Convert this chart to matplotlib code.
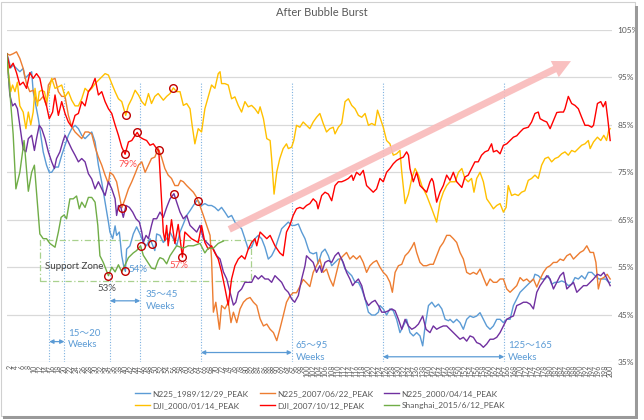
import numpy as np
import matplotlib.pyplot as plt
from matplotlib.patches import Rectangle, FancyArrowPatch

plt.rcParams['font.family'] = ['Lato', 'Noto Sans CJK JP']

# (week, % of peak)
n225_1989 = [(1.0, 100), (1.5, 99.0), (2.3, 97.0), (3.1, 97.6), (4.2, 96.9), (5.3, 96.2), (6.4, 96.9), (7.0, 94.8),
             (8.1, 95.5), (9.2, 96.2), (9.7, 92.0), (10.6, 89.0), (11.4, 86.3), (12.2, 82.8), (13.0, 79.3), (14.1, 76.5),
             (15.0, 75.0), (15.8, 75.0), (16.9, 76.1), (18.0, 76.1), (19.1, 78.6), (20.2, 80.7), (21.3, 82.8), (22.4, 84.2),
             (23.5, 84.9), (24.6, 84.2), (25.7, 82.8), (26.8, 82.1), (27.9, 82.8), (29.0, 83.5), (30.1, 81.4), (31.2, 76.5),
             (32.3, 72.9), (33.4, 68.7), (34.5, 64.5), (35.0, 62.4), (35.9, 61.0), (36.7, 63.7), (37.2, 61.7), (38.1, 62.4),
             (38.9, 57.4), (39.6, 55.0), (40.1, 54.1), (40.5, 58.8), (41.6, 59.5), (42.7, 62.0), (43.8, 63.5), (44.9, 62.0),
             (46.0, 60.2), (47.1, 59.5), (48.2, 61.0), (48.9, 59.9), (49.8, 58.5), (50.4, 62.0), (51.5, 61.7), (52.6, 60.2),
             (53.7, 61.0), (54.8, 62.4), (55.9, 61.0), (57.0, 59.5), (58.1, 62.4), (59.2, 64.1), (60.3, 65.9), (61.4, 66.9),
             (62.5, 68.0), (63.6, 69.0), (64.1, 69.0), (65.2, 68.0), (66.3, 68.4), (67.4, 68.0), (68.5, 68.0), (69.6, 67.6),
             (70.7, 66.9), (71.8, 67.6), (72.9, 66.6), (74.0, 65.5), (75.1, 65.9), (76.2, 64.5), (77.3, 63.8), (78.4, 63.1),
             (79.5, 61.0), (80.6, 58.8), (81.7, 59.2), (82.8, 61.0), (83.9, 61.7), (85.0, 61.0), (86.1, 59.2), (87.2, 56.7),
             (88.3, 57.4), (89.4, 58.8), (90.5, 61.0), (91.6, 63.1), (92.7, 63.8), (93.8, 64.5), (94.9, 63.8), (95.9, 63.8),
             (97.1, 64.1), (98.2, 62.4), (99.3, 61.0), (100.4, 58.8), (100.9, 58.1), (102.0, 57.8), (103.1, 58.1),
             (103.6, 55.7), (104.8, 58.1), (105.9, 58.8), (107.0, 57.4), (108.1, 55.3), (109.2, 56.0), (110.3, 56.7),
             (111.4, 56.7), (112.5, 54.6), (113.6, 53.9), (114.7, 53.2), (115.8, 51.8), (116.9, 51.8), (118.0, 50.4),
             (119.1, 48.3), (120.2, 45.5), (121.3, 44.9), (122.4, 44.9), (123.5, 45.5), (124.0, 46.9), (125.1, 46.2),
             (126.2, 44.9), (127.3, 46.2), (128.4, 45.8), (129.5, 44.0), (130.6, 41.2), (131.7, 42.6), (132.8, 44.0),
             (133.9, 41.2), (135.0, 40.5), (136.1, 41.2), (137.2, 40.5), (138.1, 38.4), (138.9, 42.6), (140.0, 46.9),
             (141.1, 47.6), (142.2, 46.6), (143.3, 47.2), (144.4, 46.2), (145.5, 44.0), (146.6, 43.7), (147.1, 44.0),
             (148.2, 43.3), (149.3, 44.0), (150.4, 43.3), (151.5, 41.9), (152.6, 44.0), (153.7, 44.7), (154.8, 44.4),
             (155.9, 44.7), (157.0, 45.4), (158.1, 44.0), (159.2, 42.6), (160.3, 41.9), (161.4, 42.6), (162.5, 44.0),
             (163.6, 44.0), (164.7, 43.3), (165.8, 44.0), (166.9, 44.0), (168.0, 46.9), (169.1, 48.3), (170.2, 49.7),
             (171.3, 50.4), (172.4, 51.1), (173.5, 51.8), (174.6, 52.5), (175.1, 53.5), (176.2, 53.2), (177.3, 52.5),
             (178.4, 52.5), (179.5, 53.2), (180.6, 51.4), (181.7, 51.8), (182.8, 51.8), (183.9, 52.1), (185.0, 51.8),
             (186.1, 51.1), (187.2, 51.4), (188.3, 52.8), (189.4, 52.5), (190.5, 53.2), (191.6, 52.5), (192.7, 53.9),
             (193.8, 53.9), (194.9, 53.2), (196.2, 52.5), (197.3, 52.5), (198.4, 52.5), (199.4, 51.8), (199.9, 51.8)]

n225_2007 = [(1.0, 100), (2.0, 99.7), (3.1, 100.0), (4.2, 100.4), (5.3, 99.0), (6.4, 96.9), (7.5, 93.7), (8.6, 92.0),
             (9.7, 92.3), (10.8, 89.9), (11.9, 90.2), (13.0, 91.0), (14.1, 89.0), (14.7, 93.4), (15.8, 94.5), (16.9, 94.8),
             (18.0, 92.0), (19.1, 91.0), (20.2, 91.0), (21.3, 87.0), (22.4, 84.6), (23.5, 83.5), (24.6, 82.8), (25.7, 82.1),
             (26.8, 83.5), (27.9, 83.5), (29.0, 83.1), (30.1, 80.3), (31.2, 78.2), (32.3, 76.5), (33.4, 74.4), (34.5, 72.6),
             (35.0, 75.0), (36.1, 74.4), (37.2, 73.0), (38.3, 69.4), (38.9, 67.5), (40.0, 69.4), (41.1, 71.5), (42.2, 73.0),
             (43.3, 74.7), (44.4, 76.5), (45.5, 77.2), (46.6, 75.0), (47.7, 76.5), (48.7, 77.9), (49.8, 78.2), (50.9, 80.0),
             (52.0, 78.2), (53.1, 75.8), (54.2, 74.4), (55.3, 73.7), (56.4, 72.2), (57.5, 72.2), (58.3, 73.3), (59.2, 73.0),
             (60.3, 72.2), (61.4, 71.5), (62.5, 70.8), (63.6, 69.7), (64.7, 67.9), (65.8, 65.9), (66.9, 63.8), (68.0, 61.7),
             (68.5, 56.7), (69.1, 45.5), (69.9, 47.6), (71.1, 41.9), (71.8, 46.9), (72.9, 46.2), (74.0, 47.6), (74.9, 43.3),
             (75.7, 45.5), (76.8, 43.3), (77.9, 46.2), (79.0, 47.6), (80.1, 48.3), (81.2, 48.6), (82.3, 47.6), (83.4, 46.9),
             (84.5, 44.1), (85.6, 42.6), (86.7, 43.0), (87.8, 41.9), (88.9, 41.2), (90.0, 39.5), (91.0, 41.9), (92.1, 44.7),
             (93.2, 47.6), (94.3, 48.9), (95.4, 49.6), (96.5, 49.6), (97.6, 50.9), (98.7, 52.4), (99.8, 51.7), (100.9, 50.9),
             (102.0, 53.9), (103.1, 55.3), (104.2, 56.7), (105.3, 53.9), (106.4, 54.6), (107.5, 52.5), (108.6, 51.0),
             (109.7, 53.9), (110.8, 56.7), (111.9, 57.4), (113.0, 58.1), (114.1, 56.7), (115.2, 57.4), (116.3, 56.7),
             (117.4, 57.4), (118.5, 56.0), (119.6, 53.9), (120.7, 55.3), (121.8, 56.0), (122.9, 56.4), (124.0, 55.0),
             (125.1, 53.9), (126.2, 53.2), (127.3, 51.8), (128.1, 49.7), (129.0, 53.9), (130.1, 55.3), (131.2, 55.6),
             (132.3, 57.4), (133.4, 58.1), (134.5, 59.2), (135.3, 60.2), (136.1, 58.1), (137.2, 56.0), (138.3, 55.3),
             (139.4, 55.3), (140.5, 55.6), (141.6, 55.6), (142.7, 57.4), (143.8, 59.2), (144.9, 60.2), (146.0, 61.7),
             (147.1, 61.7), (148.2, 61.0), (149.3, 60.2), (150.4, 58.1), (151.5, 56.7), (152.6, 53.9), (153.7, 53.5),
             (154.8, 53.9), (155.9, 53.5), (157.0, 54.6), (158.1, 52.8), (159.2, 51.1), (160.3, 52.5), (161.4, 51.8),
             (162.5, 51.8), (163.6, 52.5), (164.7, 52.5), (165.8, 50.4), (166.9, 49.7), (168.0, 50.4), (169.1, 51.1),
             (170.2, 52.8), (171.3, 52.1), (172.4, 52.5), (173.5, 51.8), (174.6, 52.5), (175.7, 50.8), (176.8, 52.5),
             (177.9, 53.9), (179.0, 54.9), (180.1, 55.3), (181.2, 56.0), (182.3, 56.0), (183.4, 56.7), (184.5, 56.4),
             (185.6, 57.4), (186.7, 57.8), (187.8, 56.7), (188.9, 57.4), (190.0, 58.1), (191.1, 58.5), (192.2, 59.5),
             (193.3, 58.1), (194.4, 58.1), (195.2, 56.0), (196.0, 50.4), (196.8, 52.5), (197.8, 52.8), (198.9, 53.5),
             (199.9, 52.5)]

n225_2000 = [(1.0, 100), (1.5, 95.5), (2.0, 91.3), (2.9, 89.0), (3.7, 89.5), (4.5, 88.4), (5.3, 84.9), (6.4, 79.9),
             (7.3, 79.3), (8.1, 82.1), (9.2, 82.8), (10.1, 79.6), (10.8, 82.1), (11.7, 84.9), (12.5, 84.2), (13.6, 82.1),
             (14.7, 79.3), (15.8, 77.2), (16.7, 75.8), (17.4, 77.9), (18.5, 79.3), (19.6, 81.7), (20.2, 82.8), (21.3, 81.4),
             (22.4, 79.9), (23.5, 78.6), (24.6, 77.2), (25.7, 77.9), (26.8, 77.2), (27.9, 74.7), (29.0, 73.6), (30.1, 71.5),
             (31.2, 73.0), (32.3, 71.5), (33.4, 70.1), (34.5, 73.0), (35.6, 71.5), (36.7, 69.4), (37.2, 65.9), (37.8, 68.0),
             (38.6, 67.6), (39.4, 65.5), (40.3, 68.0), (41.4, 67.6), (42.5, 66.6), (43.6, 65.2), (44.7, 64.5), (45.5, 62.4),
             (46.0, 60.2), (46.9, 61.7), (47.7, 61.0), (48.7, 63.8), (49.3, 65.2), (50.4, 65.2), (51.5, 66.6), (52.6, 65.5),
             (53.7, 67.6), (54.8, 69.4), (56.1, 70.5), (57.0, 68.7), (58.1, 66.6), (59.2, 65.2), (60.3, 65.9), (61.4, 63.8),
             (62.5, 63.1), (63.6, 62.4), (64.7, 63.8), (65.8, 61.0), (66.9, 60.2), (68.0, 59.5), (69.1, 58.8), (70.2, 57.4),
             (71.3, 56.7), (72.4, 54.0), (73.5, 52.5), (74.6, 49.7), (75.7, 47.0), (76.5, 47.6), (77.3, 49.7), (78.4, 50.4),
             (79.5, 51.8), (80.6, 51.8), (81.7, 51.8), (82.8, 53.2), (83.9, 52.5), (85.0, 53.2), (86.1, 52.5), (87.2, 52.5),
             (88.3, 51.8), (89.4, 53.2), (90.5, 52.5), (91.6, 51.8), (92.7, 50.4), (93.8, 49.7), (94.9, 48.3), (95.9, 47.6),
             (97.1, 49.0), (98.2, 52.5), (99.3, 55.3), (99.8, 57.4), (100.9, 56.7), (102.0, 56.0), (103.1, 53.9),
             (104.2, 55.3), (104.8, 53.9), (105.9, 56.0), (107.0, 56.4), (108.1, 56.0), (109.2, 57.4), (110.3, 58.1),
             (110.8, 57.4), (111.9, 56.0), (113.0, 53.9), (114.1, 52.5), (115.0, 51.1), (115.8, 51.8), (116.9, 52.5),
             (118.0, 51.1), (119.1, 48.3), (120.2, 46.9), (121.3, 47.6), (122.4, 48.0), (123.5, 46.9), (124.6, 45.5),
             (125.7, 45.5), (126.8, 45.8), (127.9, 46.2), (129.0, 45.8), (130.1, 44.0), (131.2, 41.9), (132.3, 44.0),
             (133.4, 42.6), (134.5, 41.9), (135.6, 42.3), (136.7, 43.0), (138.1, 44.7), (139.2, 41.9), (140.5, 41.2),
             (141.6, 42.6), (142.7, 41.9), (143.8, 42.3), (144.9, 42.6), (146.0, 42.6), (147.1, 41.9), (148.2, 41.2),
             (149.3, 40.5), (150.4, 39.8), (151.5, 40.2), (152.6, 39.4), (153.7, 40.5), (154.8, 40.2), (155.9, 39.1),
             (157.0, 38.8), (158.1, 38.1), (159.2, 38.8), (160.3, 39.8), (161.4, 39.8), (162.5, 40.2), (163.6, 41.2),
             (164.7, 42.6), (165.8, 44.0), (166.9, 44.4), (168.0, 44.7), (169.1, 46.9), (170.2, 47.2), (171.3, 47.6),
             (172.4, 47.6), (173.5, 47.2), (174.6, 46.2), (175.7, 49.7), (176.8, 51.1), (177.9, 52.1), (179.0, 53.2),
             (180.1, 52.5), (181.2, 50.4), (182.3, 51.8), (183.4, 53.2), (184.5, 53.9), (185.6, 50.4), (186.7, 51.1),
             (187.8, 51.8), (188.9, 49.7), (190.0, 50.4), (191.1, 51.1), (192.2, 51.1), (193.3, 51.8), (194.4, 52.5),
             (195.7, 53.5), (196.8, 53.2), (197.8, 53.9), (198.9, 52.5), (199.9, 51.1)]

dji_2000 = [(1.0, 100), (1.5, 96.2), (2.3, 92.0), (2.9, 93.4), (3.7, 92.0), (4.5, 94.0), (5.3, 89.0), (6.4, 87.7),
            (7.3, 84.2), (8.1, 87.7), (8.9, 85.0), (9.7, 87.7), (10.3, 92.7), (11.1, 89.0), (11.7, 92.0), (12.5, 92.3),
            (13.4, 92.0), (14.1, 89.9), (14.9, 92.0), (15.8, 94.8), (16.9, 92.7), (18.0, 93.0), (19.1, 93.4), (20.2, 90.9),
            (21.3, 92.0), (22.4, 90.2), (23.5, 89.0), (24.6, 89.0), (25.7, 90.5), (26.8, 92.7), (27.9, 92.0), (29.0, 92.7),
            (30.1, 93.7), (31.2, 94.4), (32.3, 95.1), (33.4, 95.8), (34.5, 95.5), (35.6, 93.7), (36.7, 92.0), (37.8, 90.5),
            (38.9, 89.9), (40.2, 87.0), (41.1, 89.1), (42.2, 90.5), (43.3, 92.3), (44.4, 91.3), (45.5, 89.9), (46.6, 89.1),
            (47.7, 91.6), (48.7, 89.5), (49.8, 91.0), (50.9, 91.6), (52.6, 90.2), (53.7, 91.0), (54.8, 91.6), (55.9, 92.8),
            (57.0, 92.0), (58.1, 92.0), (59.2, 89.1), (60.3, 89.5), (61.4, 88.4), (62.1, 84.9), (63.0, 81.0), (64.1, 84.2),
            (65.2, 83.5), (66.3, 88.4), (67.4, 90.9), (68.5, 93.4), (69.6, 92.7), (70.7, 95.8), (71.3, 96.2), (71.8, 93.7),
            (72.9, 93.7), (74.0, 93.4), (75.1, 90.5), (76.2, 90.9), (77.3, 89.1), (78.4, 87.7), (79.5, 89.9), (80.6, 88.8),
            (81.7, 89.1), (82.8, 88.4), (83.9, 87.4), (84.5, 88.8), (85.6, 86.3), (86.7, 82.1), (87.8, 81.7), (88.3, 77.9),
            (89.1, 70.4), (90.0, 75.1), (91.0, 77.9), (92.1, 80.0), (93.2, 81.0), (93.8, 80.0), (94.9, 80.3), (95.6, 81.7),
            (96.5, 84.9), (97.6, 84.5), (98.7, 85.6), (99.8, 84.9), (100.9, 84.2), (102.0, 85.6), (103.1, 86.6),
            (104.2, 87.4), (105.3, 85.3), (106.4, 83.5), (107.5, 84.2), (108.6, 84.5), (109.2, 83.1), (110.3, 84.5),
            (111.4, 85.3), (112.5, 89.9), (113.6, 90.5), (114.7, 89.1), (115.8, 88.4), (116.9, 87.0), (118.0, 86.6),
            (119.1, 87.4), (120.2, 84.9), (121.3, 85.3), (122.4, 84.9), (123.2, 88.1), (124.0, 86.6), (125.1, 84.5),
            (126.2, 81.7), (127.3, 81.0), (128.4, 78.6), (129.5, 78.9), (130.6, 79.6), (131.2, 75.0), (132.3, 68.4),
            (133.4, 70.4), (134.5, 73.7), (135.6, 75.8), (136.7, 74.4), (137.8, 72.2), (139.4, 70.1), (141.1, 67.3),
            (142.7, 64.5), (143.8, 68.7), (144.9, 70.8), (146.0, 72.2), (147.1, 73.0), (148.8, 73.0), (149.9, 75.0),
            (151.0, 75.8), (152.0, 73.7), (153.1, 73.0), (154.2, 73.7), (155.0, 70.8), (155.9, 73.7), (157.0, 75.0),
            (158.1, 73.0), (159.2, 69.4), (160.3, 68.4), (161.4, 67.3), (162.5, 68.0), (163.6, 68.4), (164.7, 66.6),
            (165.6, 67.6), (166.3, 72.2), (167.4, 70.1), (168.5, 70.4), (169.6, 70.1), (170.7, 70.8), (171.8, 71.1),
            (172.9, 73.3), (174.0, 73.7), (175.1, 74.4), (176.2, 73.7), (177.3, 76.5), (178.4, 77.9), (179.5, 78.2),
            (180.6, 77.2), (181.7, 77.9), (182.8, 78.2), (183.9, 78.9), (185.0, 79.3), (186.1, 78.6), (187.2, 79.6),
            (188.3, 79.3), (189.4, 80.0), (190.5, 80.7), (191.6, 81.0), (192.7, 81.7), (193.3, 80.0), (194.4, 81.4),
            (195.7, 82.4), (196.8, 81.7), (197.8, 82.8), (198.7, 81.7), (199.4, 83.8), (199.9, 84.2)]

dji_2007 = [(1.0, 100), (2.0, 97.0), (3.1, 98.0), (4.2, 96.0), (5.3, 93.4), (6.4, 94.0), (7.5, 92.7), (8.6, 96.0),
            (9.7, 94.8), (10.8, 95.8), (11.9, 94.8), (13.0, 91.3), (14.1, 89.0), (15.0, 86.3), (16.1, 87.7), (16.9, 91.3),
            (18.0, 87.0), (19.1, 89.9), (20.2, 87.4), (21.3, 85.6), (22.4, 84.6), (23.5, 87.0), (24.6, 87.4), (25.7, 89.9),
            (26.8, 89.0), (27.9, 92.0), (29.0, 93.0), (30.1, 94.8), (31.2, 91.3), (32.3, 92.0), (33.4, 89.9), (34.5, 88.4),
            (35.6, 87.4), (36.7, 85.0), (37.8, 82.8), (38.9, 80.3), (40.0, 78.8), (41.1, 81.4), (42.2, 81.7), (43.3, 82.8),
            (44.0, 83.4), (44.9, 82.4), (46.0, 82.0), (47.1, 81.7), (48.2, 80.7), (49.3, 81.0), (50.4, 80.0), (51.1, 79.6),
            (52.6, 62.4), (53.1, 60.6), (53.7, 63.8), (54.2, 59.5), (55.3, 65.0), (56.4, 60.0), (57.5, 64.0), (58.9, 57.1),
            (59.7, 62.4), (60.8, 61.7), (61.9, 61.0), (63.0, 60.6), (64.1, 60.2), (65.2, 63.8), (66.3, 60.2), (67.4, 58.8),
            (68.5, 59.5), (69.6, 58.0), (70.7, 56.7), (71.8, 54.0), (72.9, 50.6), (74.0, 47.0), (75.1, 52.5), (76.2, 55.3),
            (77.3, 56.7), (78.4, 57.4), (79.5, 56.7), (80.6, 58.8), (81.7, 60.2), (82.8, 61.0), (83.4, 59.5), (84.5, 62.4),
            (85.6, 61.7), (86.7, 61.0), (87.8, 61.7), (89.4, 59.5), (91.0, 58.0), (92.1, 57.4), (93.2, 62.4), (94.3, 63.8),
            (95.4, 65.9), (96.5, 67.3), (97.6, 67.6), (98.7, 67.3), (99.8, 68.0), (100.9, 68.4), (102.0, 69.4),
            (103.1, 68.7), (103.6, 67.3), (104.8, 70.1), (105.9, 70.8), (107.0, 70.4), (108.1, 69.0), (109.2, 72.2),
            (110.3, 73.0), (111.4, 73.0), (112.5, 73.3), (113.6, 73.7), (114.7, 74.4), (115.2, 73.3), (116.3, 75.0),
            (117.4, 74.4), (118.5, 75.4), (119.6, 72.2), (120.7, 71.5), (121.8, 70.8), (122.9, 71.5), (124.0, 73.7),
            (125.1, 73.0), (126.2, 75.0), (127.3, 75.8), (128.4, 76.8), (129.5, 77.5), (130.6, 77.9), (131.7, 78.2),
            (132.8, 79.3), (133.4, 78.6), (133.9, 75.8), (135.0, 73.0), (136.1, 75.0), (137.2, 72.2), (138.3, 71.5),
            (139.4, 70.8), (140.5, 73.0), (141.1, 73.7), (141.6, 73.0), (142.7, 68.7), (143.8, 70.8), (144.9, 72.2),
            (146.0, 74.4), (147.1, 73.3), (148.2, 75.0), (149.3, 73.0), (151.0, 71.8), (152.0, 74.0), (153.1, 74.4),
            (154.2, 75.8), (155.3, 77.2), (156.4, 77.2), (157.5, 78.6), (158.6, 79.3), (159.7, 79.6), (160.8, 81.0),
            (161.4, 79.3), (162.5, 79.6), (163.6, 78.9), (164.7, 80.7), (165.8, 81.0), (166.9, 81.7), (168.0, 82.4),
            (169.1, 82.7), (170.2, 83.5), (171.3, 84.2), (172.9, 84.5), (174.0, 85.6), (175.1, 87.4), (176.2, 87.7),
            (176.8, 86.3), (177.9, 85.9), (179.0, 85.6), (180.1, 84.2), (181.2, 85.9), (182.3, 87.6), (183.4, 87.7),
            (184.5, 87.7), (185.0, 88.4), (186.1, 91.0), (187.2, 89.5), (188.3, 89.1), (189.4, 88.4), (190.5, 86.6),
            (191.6, 84.9), (192.7, 84.9), (193.8, 84.5), (194.4, 84.9), (195.7, 89.5), (196.8, 89.9), (197.6, 88.8),
            (198.4, 89.9), (199.1, 86.3), (199.9, 81.7)]

shanghai_2015 = [(1.0, 100), (2.0, 92.0), (3.1, 83.0), (4.0, 71.5), (5.3, 75.0), (6.7, 81.7), (8.1, 71.0), (9.2, 75.0),
                 (10.1, 76.5), (10.8, 70.8), (11.9, 62.0), (13.0, 61.0), (14.1, 61.0), (15.2, 60.0), (16.9, 59.2),
                 (18.0, 62.4), (18.9, 65.5), (19.9, 66.0), (20.7, 65.2), (21.8, 69.4), (22.9, 69.4), (24.0, 70.0),
                 (24.9, 67.3), (25.7, 68.7), (26.8, 67.6), (27.9, 69.7), (29.0, 69.7), (30.1, 68.7), (31.0, 63.8),
                 (31.7, 57.4), (32.8, 56.0), (34.5, 53.2), (35.6, 55.0), (36.7, 54.0), (37.8, 55.5), (38.9, 54.0),
                 (40.0, 55.5), (41.1, 57.0), (42.7, 58.0), (43.8, 58.5), (45.1, 59.5), (46.0, 57.5), (47.1, 56.4),
                 (48.7, 54.8), (49.9, 54.6), (50.9, 56.4), (51.5, 57.0), (52.6, 56.7), (53.7, 55.7), (54.8, 57.4),
                 (57.0, 59.5), (59.2, 59.0), (60.8, 59.5), (62.5, 59.5), (64.7, 60.0), (66.3, 58.0), (67.4, 59.0),
                 (69.1, 59.0), (70.7, 60.0), (72.4, 60.5)]

series_names = ['N225_1989/12/29_PEAK', 'N225_2007/06/22_PEAK', 'N225_2000/04/14_PEAK',
                'DJI_2000/01/14_PEAK', 'DJI_2007/10/12_PEAK', 'Shanghai_2015/6/12_PEAK']
series_data = [n225_1989, n225_2007, n225_2000, dji_2000, dji_2007, shanghai_2015]
series_colors = ['#5B9BD5', '#ED7D31', '#7030A0', '#FFC000', '#FF0000', '#70AD47']

# red circles: (series index, week)
circled = [(3, 40.2), (3, 55.9), (4, 40.0), (4, 44.0), (4, 51.1), (4, 58.9), (1, 38.9),
           (2, 56.1), (0, 40.1), (0, 48.9), (0, 64.1), (5, 34.5), (5, 45.1)]

week_marks = [15, 20, 35, 45, 65, 95, 125, 165]
spans = [(15, 20, 39.3, '15～20\nWeeks', 21.2, 39.8),
         (35, 45, 47.9, '35～45\nWeeks', 46.9, 48.0),
         (65, 95, 37.0, '65～95\nWeeks', 96.3, 37.2),
         (125, 165, 36.1, '125～165\nWeeks', 166.2, 37.2)]

y_ticks = np.arange(35, 106, 10)
x_ticks = np.arange(2, 201, 2)

fig = plt.figure(figsize=(6.44, 4.2), dpi=100)
ax = fig.add_axes([6.7 / 644, 1 - 362 / 420, (612 - 6.7) / 644, 332 / 420])

lines = []
for name, pts, col in zip(series_names, series_data, series_colors):
    arr = np.array(pts)
    ln, = ax.plot(arr[:, 0], arr[:, 1], color=col, lw=1.0, label=name, zorder=3)
    lines.append(ln)

for idx, wk in circled:
    arr = np.array(series_data[idx])
    ax.plot(wk, np.interp(wk, arr[:, 0], arr[:, 1]), 'o', ms=5.5, mfc='none',
            mec='#C00000', mew=1.0, zorder=5)

ax.vlines(week_marks, 35, 94, colors='#7FB2E0', linestyles=(0, (1, 1.5)), lw=0.8, zorder=2)

for x0, x1, yy, txt, tx, ty in spans:
    ax.annotate('', xy=(x1, yy), xytext=(x0, yy),
                arrowprops=dict(arrowstyle='<|-|>', color='#5B9BD5', lw=0.9,
                                mutation_scale=6, shrinkA=0, shrinkB=0), zorder=4)
    ax.text(tx, ty, txt, color='#5B9BD5', fontsize=7, ha='left', va='center', linespacing=1.35)

ax.add_patch(Rectangle((11.9, 52.1), 69.5, 8.65, fill=False, edgecolor='#A9D18E',
                       ls=(0, (5, 2, 1, 2)), lw=0.9, zorder=2))
ax.text(13.6, 55.2, 'Support Zone', fontsize=7, color='#404040', va='center', ha='left')
ax.text(40.8, 76.6, '79%', fontsize=7, color='#FF5050', ha='center', va='center')
ax.text(33.9, 50.4, '53%', fontsize=7, color='#505050', ha='center', va='center')
ax.text(44.2, 54.5, '54%', fontsize=7, color='#5B9BD5', ha='center', va='center')
ax.text(57.7, 55.3, '57%', fontsize=7, color='#FF5050', ha='center', va='center')

pink = FancyArrowPatch((73.5, 62.7), (187.8, 98.7),
                       arrowstyle='simple,tail_width=0.5,head_width=1.3,head_length=1.3',
                       mutation_scale=10, color='#F9BABA', alpha=0.9, lw=0, zorder=6)
ax.add_patch(pink)

ax.set_xlim(0.97, 200.5)
ax.set_ylim(35, 105)
ax.set_yticks(y_ticks)
ax.set_yticklabels([f'{v}%' for v in y_ticks])
ax.yaxis.tick_right()
ax.tick_params(axis='y', length=0, pad=4, labelsize=6, labelcolor='#595959')
ax.set_xticks(x_ticks)
ax.set_xticklabels([str(v) for v in x_ticks], rotation=90)
ax.tick_params(axis='x', length=0, pad=2, labelsize=5, labelcolor='#595959')
ax.grid(axis='y', color='#D9D9D9', lw=0.9)
ax.set_axisbelow(True)
for s in ax.spines.values():
    s.set_visible(False)

fig.text(0.5, 1 - 13 / 420, 'After Bubble Burst', ha='center', va='center', fontsize=8, color='#595959')

order = [0, 3, 1, 4, 2, 5]
fig.legend([lines[i] for i in order], [series_names[i] for i in order], ncol=3,
           loc='center', bbox_to_anchor=(0.497, 0.048), frameon=False, fontsize=6,
           handlelength=1.8, handletextpad=0.3, columnspacing=1.3, labelspacing=0.6,
           labelcolor='#595959')

# chart frame with shadow
fig.patches.append(Rectangle((1 / 644, 4 / 420), 634 / 644, 414 / 420, transform=fig.transFigure,
                             fill=False, edgecolor='#D0D0D0', lw=0.8))
fig.patches.append(Rectangle((3 / 644, 1 / 420), 634 / 644, 3 / 420, transform=fig.transFigure,
                             color='#9A9A9A', lw=0))
fig.patches.append(Rectangle((635 / 644, 1 / 420), 3 / 644, 413 / 420, transform=fig.transFigure,
                             color='#9A9A9A', lw=0))

fig.savefig('out.png', dpi=100)
